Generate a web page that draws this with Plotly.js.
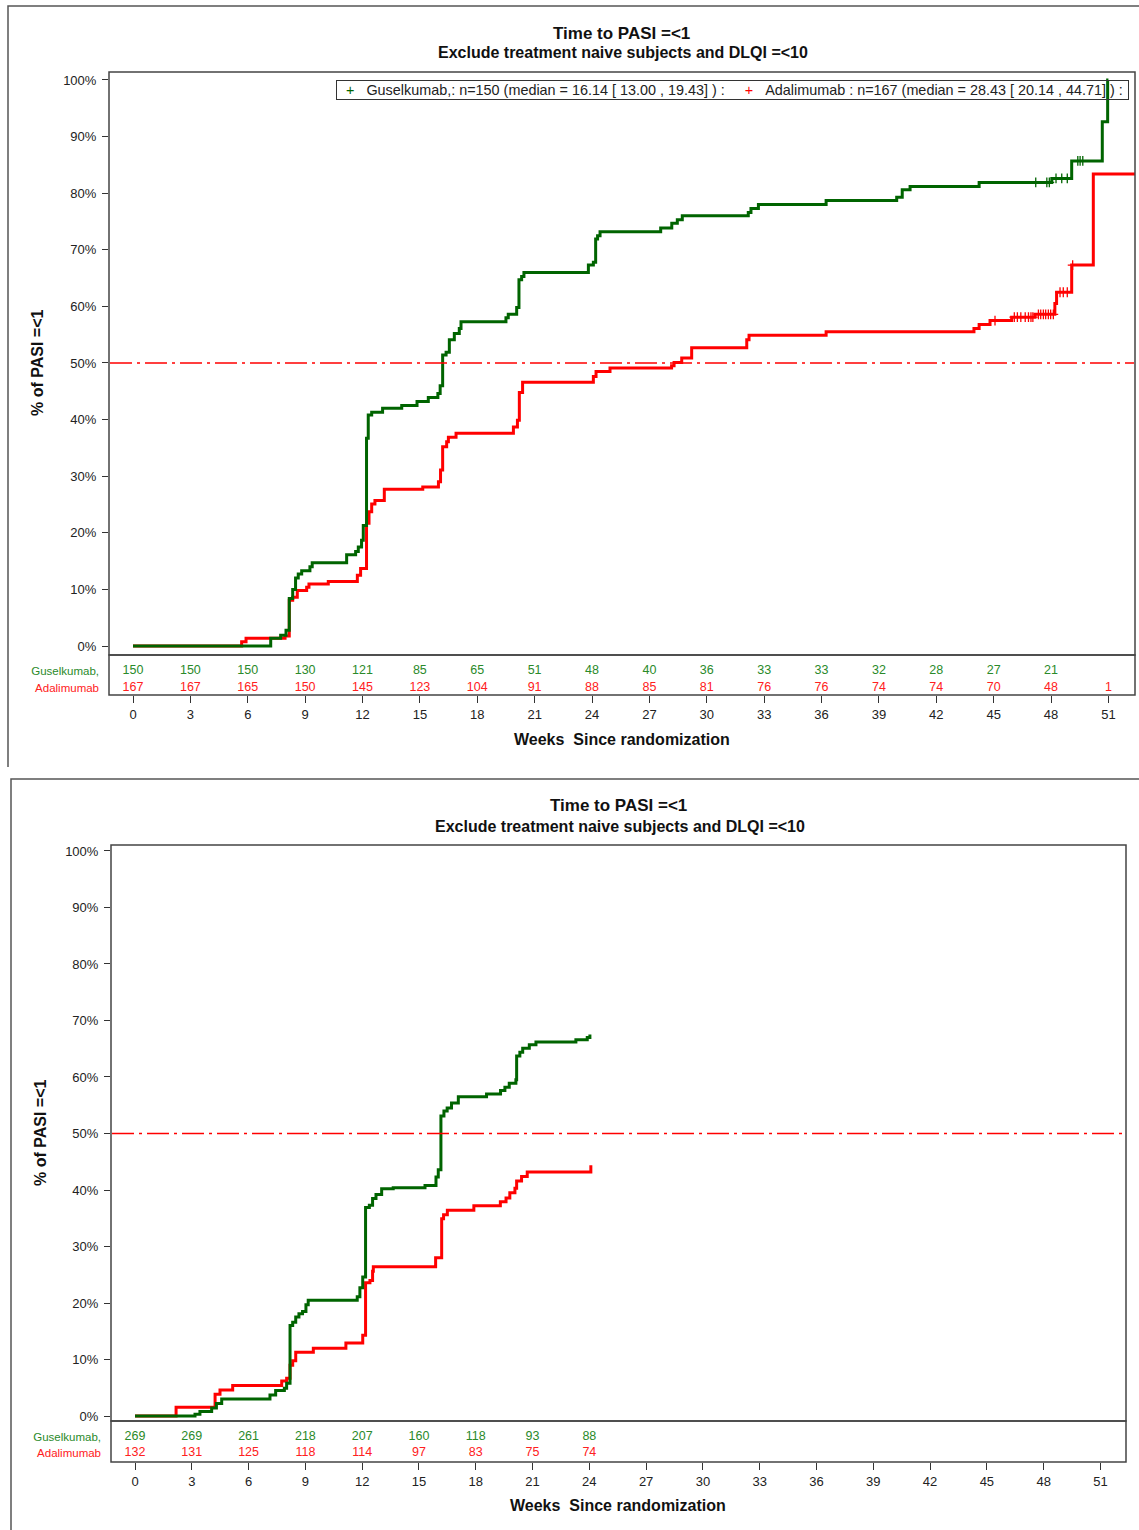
<!DOCTYPE html>
<html>
<head>
<meta charset="utf-8">
<script src="https://cdn.plot.ly/plotly-3.0.1.min.js"></script>
<style>
  html, body { margin: 0; padding: 0; background: #ffffff; }
  #chart { width: 1139px; height: 1530px; }
</style>
</head>
<body>
<div id="chart"></div>
<script>
// ---------- data ----------
const weekTicks = [0, 3, 6, 9, 12, 15, 18, 21, 24, 27, 30, 33, 36, 39, 42, 45, 48, 51];
const pctTicks = [0, 10, 20, 30, 40, 50, 60, 70, 80, 90, 100];
const pctLabels = ['0%', '10%', '20%', '30%', '40%', '50%', '60%', '70%', '80%', '90%', '100%'];
const armNames = ['Guselkumab,', 'Adalimumab'];
const medianLevel = 50;

// Panel 1: cumulative % reaching PASI =<1 (step times in weeks, percent)
const gusTopT = [0, 7.2, 7.72, 8.0, 8.17, 8.35, 8.5, 8.64, 8.82, 9.25, 9.37, 11.17, 11.64, 11.78, 11.95, 12.04, 12.21, 12.3, 12.48, 13.05,
  14.05, 14.85, 15.44, 15.94, 16.06, 16.19, 16.37, 16.54, 16.8, 17.06, 17.15, 19.5, 19.62, 20.06, 20.18, 20.32, 20.44,
  23.81, 24.07, 24.19, 24.29, 24.42, 27.59, 28.17, 28.46, 28.72, 32.17, 32.31, 32.7, 36.24, 39.93, 40.22, 40.63, 44.24,
  48.04, 49.08, 50.68, 50.96, 51.0];
const gusTopP = [0, 1.35, 1.9, 2.8, 8.4, 10.0, 12.0, 12.7, 13.3, 14.0, 14.7, 16.1, 16.7, 17.5, 18.7, 21.3, 36.7, 40.8, 41.3, 42.0,
  42.5, 43.2, 43.9, 44.6, 46.0, 51.4, 51.9, 54.1, 55.2, 56.1, 57.3, 58.0, 58.6, 59.8, 64.7, 65.3, 66.0,
  67.3, 67.8, 71.9, 72.5, 73.2, 73.85, 74.7, 75.3, 76.0, 76.6, 77.3, 78.0, 78.7, 79.3, 80.6, 81.2, 81.9,
  82.6, 85.7, 92.6, 100, 100];
const adaTopT = [0, 5.68, 5.91, 7.95, 8.17, 8.35, 8.59, 9.08, 9.2, 10.21, 11.73, 11.9, 12.21, 12.34, 12.48, 12.65, 13.14,
  15.15, 15.97, 16.08, 16.19, 16.4, 16.49, 16.89, 19.89, 20.1, 20.2, 20.37, 24.07, 24.21, 24.94,
  28.16, 28.29, 28.69, 29.21, 32.09, 32.21, 36.24, 43.97, 44.24, 44.81, 45.94, 47.16, 48.2, 48.29, 49.08, 50.21, 52.4];
const adaTopP = [0, 0.77, 1.35, 1.77, 8.1, 8.6, 9.8, 10.4, 10.95, 11.4, 12.5, 13.7, 21.7, 23.7, 25.1, 25.7, 27.7,
  28.1, 29.0, 31.1, 35.2, 36.1, 36.9, 37.6, 38.7, 39.9, 44.8, 46.6, 47.6, 48.5, 49.1,
  49.5, 50.1, 50.9, 52.7, 54.1, 54.9, 55.5, 56.1, 56.8, 57.5, 58.1, 58.6, 60.5, 62.5, 67.3, 83.4, 83.4];
// censored observations (weeks)
const gusTopCens = [47.2, 47.78, 47.91, 48.26, 48.56, 48.85, 49.4, 49.52, 49.66];
const adaTopCens = [45.07, 46.08, 46.24, 46.42, 46.65, 46.82, 46.95, 47.05, 47.34, 47.46, 47.6, 47.72, 47.86, 47.98, 48.12,
  48.47, 48.64, 48.85, 49.13];

// Panel 1: numbers at risk
const riskWeeksGusTop = [0, 3, 6, 9, 12, 15, 18, 21, 24, 27, 30, 33, 36, 39, 42, 45, 48];
const riskGusTop = [150, 150, 150, 130, 121, 85, 65, 51, 48, 40, 36, 33, 33, 32, 28, 27, 21];
const riskWeeksAdaTop = [0, 3, 6, 9, 12, 15, 18, 21, 24, 27, 30, 33, 36, 39, 42, 45, 48, 51];
const riskAdaTop = [167, 167, 165, 150, 145, 123, 104, 91, 88, 85, 81, 76, 76, 74, 74, 70, 48, 1];

const legendGus = 'Guselkumab,: n=150 (median = 16.14 [ 13.00 , 19.43] ) :';
const legendAda = 'Adalimumab : n=167 (median = 28.43 [ 20.14 , 44.71] ) :';

// Panel 2
const gusBotT = [0, 3.17, 3.43, 4.05, 4.3, 4.58, 7.13, 7.43, 7.89, 8.01, 8.19, 8.33, 8.49, 8.66, 8.85, 9.03, 9.15,
  11.74, 11.88, 12.03, 12.18, 12.38, 12.55, 12.73, 13.03, 13.64, 15.32, 15.9, 16.02, 16.16, 16.32, 16.49, 16.72, 17.08,
  18.57, 19.31, 19.54, 19.77, 20.12, 20.16, 20.33, 20.48, 20.83, 21.18, 23.29, 23.89, 24.03];
const gusBotP = [0, 0.3, 0.8, 1.4, 2.2, 3.0, 3.7, 4.5, 4.9, 5.8, 16.0, 16.6, 17.5, 18.1, 18.5, 19.7, 20.5,
  21.1, 22.7, 24.6, 36.9, 37.3, 38.5, 39.2, 40.2, 40.4, 40.8, 42.3, 43.6, 53.1, 54.0, 54.5, 55.4, 56.5,
  57.0, 57.6, 58.2, 58.9, 59.5, 63.7, 64.4, 65.1, 65.7, 66.2, 66.6, 67.0, 67.5];
const adaBotT = [0, 2.17, 4.23, 4.49, 5.16, 7.75, 8.01, 8.19, 8.33, 8.49, 9.42, 11.14, 12.03, 12.18, 12.41, 12.55, 12.59,
  15.88, 16.2, 16.3, 16.5, 17.9, 19.3, 19.6, 19.8, 20.07, 20.16, 20.42, 20.72, 24.08];
const adaBotP = [0, 1.54, 3.85, 4.6, 5.4, 6.2, 6.7, 9.0, 9.8, 11.3, 12.0, 12.9, 14.3, 23.6, 24.0, 25.6, 26.4,
  28.0, 34.9, 35.6, 36.4, 37.2, 37.9, 38.6, 39.5, 40.3, 41.6, 42.4, 43.2, 44.4];

const riskWeeksBot = [0, 3, 6, 9, 12, 15, 18, 21, 24];
const riskGusBot = [269, 269, 261, 218, 207, 160, 118, 93, 88];
const riskAdaBot = [132, 131, 125, 118, 114, 97, 83, 75, 74];

// ---------- styling ----------
const FONT = 'Arial, "Liberation Sans", sans-serif';
const GREEN = '#006400';
const RED = '#ff0000';
const GREEN_TXT = '#2a8a2a';
const RED_TXT = '#ff2020';
const FRAME = '#444444';
const W = 1139, H = 1530;
const fx = px => px / W;
const fy = py => 1 - py / H;

// value of a step curve at time t
function stepAt(ts, ps, t) {
  let v = ps[0];
  for (let i = 0; i < ts.length; i++) { if (ts[i] <= t) v = ps[i]; }
  return v;
}

function curve(ts, ps, color, name, xa, ya) {
  return { x: ts, y: ps, name: name, xaxis: xa, yaxis: ya, type: 'scatter', mode: 'lines',
    line: { color: color, width: 3, shape: 'hv' }, hoverinfo: 'skip', showlegend: false };
}
function censors(cs, ts, ps, color, name, xa, ya) {
  return { x: cs, y: cs.map(t => stepAt(ts, ps, t)), xaxis: xa, yaxis: ya, type: 'scatter', mode: 'markers',
    name: name, showlegend: false,
    marker: { symbol: 'cross-thin', size: 7, color: color, line: { color: color, width: 1.3 } }, hoverinfo: 'skip' };
}
function riskRow(ws, vals, row, color, xa, ya) {
  return { x: ws, y: ws.map(() => row), text: vals.map(String), xaxis: xa, yaxis: ya, type: 'scatter', mode: 'text',
    textposition: 'middle center', textfont: { family: FONT, size: 12.5, color: color },
    cliponaxis: false, hoverinfo: 'skip', showlegend: false };
}

const traces = [
  curve(adaTopT, adaTopP, RED, armNames[1], 'x', 'y'),
  curve(gusTopT, gusTopP, GREEN, armNames[0], 'x', 'y'),
  censors(gusTopCens, gusTopT, gusTopP, GREEN, armNames[0], 'x', 'y'),
  censors(adaTopCens, adaTopT, adaTopP, RED, armNames[1], 'x', 'y'),
  riskRow(riskWeeksGusTop, riskGusTop, 2, GREEN_TXT, 'x', 'y2'),
  riskRow(riskWeeksAdaTop, riskAdaTop, 1, RED_TXT, 'x', 'y2'),
  curve(adaBotT, adaBotP, RED, armNames[1], 'x2', 'y3'),
  curve(gusBotT, gusBotP, GREEN, armNames[0], 'x2', 'y3'),
  riskRow(riskWeeksBot, riskGusBot, 2, GREEN_TXT, 'x2', 'y4'),
  riskRow(riskWeeksBot, riskAdaBot, 1, RED_TXT, 'x2', 'y4')
];

const rowLabels = [
  '<span style="color:' + GREEN_TXT + '">' + armNames[0] + '</span>',
  '<span style="color:' + RED_TXT + '">' + armNames[1] + '</span>'
];

function xAxis(domain, range, anchor) {
  return { domain: domain, range: range, anchor: anchor, tickvals: weekTicks, ticks: 'outside', ticklen: 7,
    tickwidth: 1, tickcolor: '#333', showgrid: false, zeroline: false, showline: false, fixedrange: true,
    tickfont: { family: FONT, size: 13, color: '#222' } };
}
function pctAxis(domain, range, anchor) {
  return { domain: domain, range: range, anchor: anchor, tickvals: pctTicks, ticktext: pctLabels, ticks: 'outside',
    ticklen: 6, tickwidth: 1, tickcolor: '#333', ticklabelstandoff: 3, showgrid: false, zeroline: false,
    showline: false, fixedrange: true, tickfont: { family: FONT, size: 13, color: '#222' } };
}
function riskAxis(domain, range, anchor) {
  return { domain: domain, range: range, anchor: anchor, tickvals: [2, 1], ticktext: rowLabels, ticks: '',
    ticklabelstandoff: 9, showgrid: false, zeroline: false, showline: false, fixedrange: true,
    tickfont: { family: FONT, size: 11.5 } };
}

function box(x0, x1, y0, y1) {
  return { type: 'rect', xref: 'paper', yref: 'paper', x0: fx(x0), x1: fx(x1), y0: fy(y1), y1: fy(y0),
    line: { color: FRAME, width: 1.5 }, fillcolor: 'rgba(0,0,0,0)', layer: 'above' };
}
// 50% reference line across a plot box
function refLine(x0, x1, ya) {
  return { type: 'line', xref: 'paper', yref: ya, x0: fx(x0), x1: fx(x1), y0: medianLevel, y1: medianLevel,
    line: { color: RED, width: 1.5, dash: '22px,5px,3px,5px' }, layer: 'above' };
}
function panelEdge(left, top, bottom) {
  return { type: 'path', xref: 'paper', yref: 'paper',
    path: 'M ' + fx(left) + ' ' + fy(bottom) + ' L ' + fx(left) + ' ' + fy(top) + ' L ' + fx(W + 2) + ' ' + fy(top),
    line: { color: '#555', width: 1.5 } };
}

function txt(text, x, y, size, angle) {
  return { text: text, xref: 'paper', yref: 'paper', x: fx(x), y: fy(y), xanchor: 'center', yanchor: 'middle',
    showarrow: false, textangle: angle || 0, font: { family: FONT, size: size, color: '#111' } };
}

// boxed key for the upper panel: coloured "+" followed by each arm's summary
const sp = n => '&nbsp;'.repeat(n);
const keyText = sp(2) + '<span style="color:' + GREEN + '">+</span>' + sp(3) + legendGus + sp(5) +
  '<span style="color:' + RED + '">+</span>' + sp(3) + legendAda + sp(1);
const keyBox = { text: keyText, xref: 'paper', yref: 'paper', x: fx(336), y: fy(80), xanchor: 'left', yanchor: 'top',
  showarrow: false, align: 'left', bordercolor: '#333', borderwidth: 1, borderpad: 1, bgcolor: 'rgba(255,255,255,0)',
  font: { family: FONT, size: 14.4, color: '#222' } };

const layout = {
  width: W, height: H,
  margin: { l: 0, r: 0, t: 0, b: 0 },
  paper_bgcolor: '#ffffff', plot_bgcolor: '#ffffff',
  font: { family: FONT, color: '#222' },
  showlegend: false,
  xaxis: xAxis([fx(109), fx(1135)], [-1.255, 52.39], 'y2'),
  yaxis: pctAxis([fy(655), fy(72)], [-1.59, 101.41], 'x'),
  yaxis2: riskAxis([fy(695), fy(655)], [0.57, 2.92], 'x'),
  xaxis2: xAxis([fx(111), fx(1126)], [-1.268, 52.35], 'y4'),
  yaxis3: pctAxis([fy(1421), fy(845)], [-0.885, 101.06], 'x2'),
  yaxis4: riskAxis([fy(1462), fy(1421)], [0.44, 3.0], 'x2'),
  shapes: [
    panelEdge(8, 6, 767),
    panelEdge(11, 779, H + 2),
    box(109, 1135, 72, 655),
    box(109, 1135, 655, 695),
    box(111, 1126, 845, 1421),
    box(111, 1126, 1421, 1462),
    refLine(110, 1134, 'y'),
    refLine(112, 1125, 'y3')
  ],
  annotations: [
    keyBox,
    txt('<b>Time to PASI =&lt;1</b>', 621, 33, 17),
    txt('<b>Exclude treatment naive subjects and DLQI =&lt;10</b>', 623, 53, 16),
    txt('<b>Weeks\u00a0 Since randomization</b>', 622, 739, 16),
    txt('<b>% of PASI =&lt;1</b>', 37, 363, 16, -90),
    txt('<b>Time to PASI =&lt;1</b>', 618, 805, 17),
    txt('<b>Exclude treatment naive subjects and DLQI =&lt;10</b>', 620, 826, 16),
    txt('<b>Weeks\u00a0 Since randomization</b>', 618, 1505, 16),
    txt('<b>% of PASI =&lt;1</b>', 40, 1133, 16, -90)
  ]
};

Plotly.newPlot('chart', traces, layout, { staticPlot: true, displayModeBar: false });
</script>
</body>
</html>
